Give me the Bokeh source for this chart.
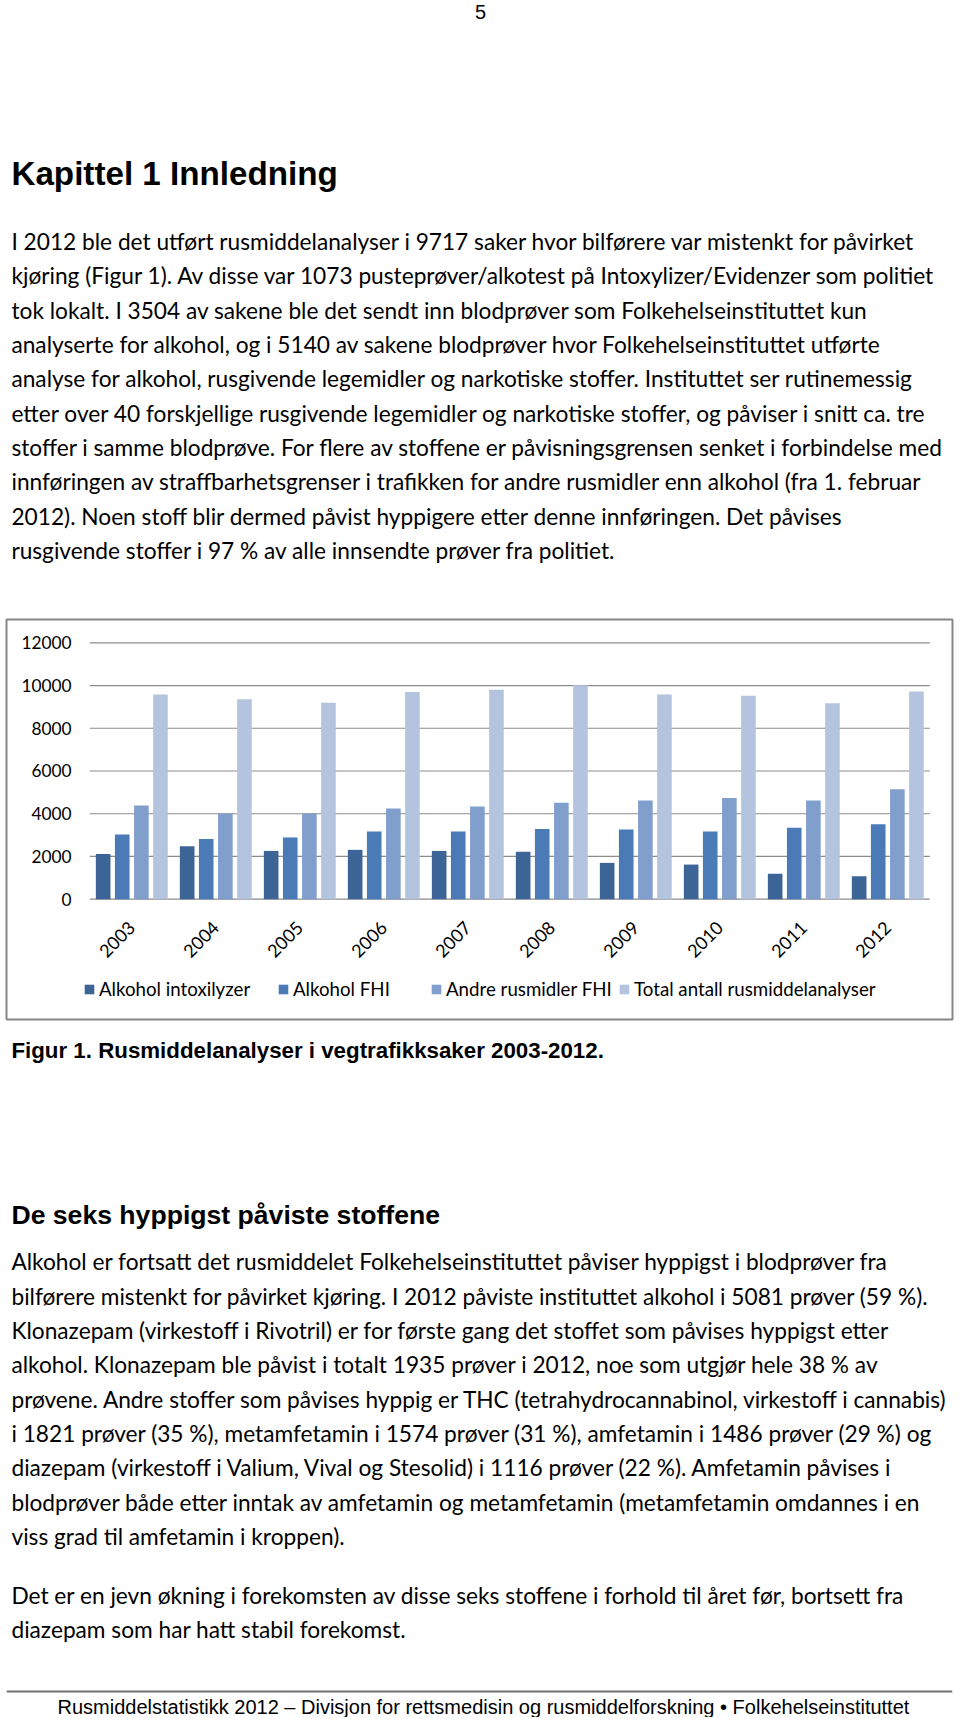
import math
from bokeh.plotting import figure
from bokeh.models import Range1d, Legend, LegendItem
from bokeh.layouts import column
from bokeh.embed import file_html
from bokeh.resources import INLINE
from bokeh.core.properties import value

# ---------------- data ----------------
years = ["2003", "2004", "2005", "2006", "2007", "2008", "2009", "2010", "2011", "2012"]
series_names = ["Alkohol intoxilyzer", "Alkohol FHI", "Andre rusmidler FHI",
                "Total antall rusmiddelanalyser"]
alkohol_intoxilyzer = [2120, 2480, 2260, 2310, 2260, 2220, 1700, 1620, 1190, 1073]
alkohol_fhi = [3030, 2820, 2890, 3170, 3170, 3290, 3260, 3170, 3340, 3504]
andre_rusmidler_fhi = [4380, 4010, 4010, 4240, 4340, 4510, 4620, 4740, 4620, 5140]
total_analyser = [9580, 9360, 9190, 9700, 9800, 10010, 9580, 9520, 9170, 9717]
y_ticks = [0, 2000, 4000, 6000, 8000, 10000, 12000]
y_tick_labels = [str(t) for t in y_ticks]

colors = ["#3C6497", "#4A7BB7", "#809FCC", "#B4C4DF"]

# ---------------- page texts ----------------
page_number = "5"
heading1 = "Kapittel 1 Innledning"
para1 = [
    "I 2012 ble det utført rusmiddelanalyser i 9717 saker hvor bilførere var mistenkt for påvirket",
    "kjøring (Figur 1). Av disse var 1073 pusteprøver/alkotest på Intoxylizer/Evidenzer som politiet",
    "tok lokalt. I 3504 av sakene ble det sendt inn blodprøver som Folkehelseinstituttet kun",
    "analyserte for alkohol, og i 5140 av sakene blodprøver hvor Folkehelseinstituttet utførte",
    "analyse for alkohol, rusgivende legemidler og narkotiske stoffer. Instituttet ser rutinemessig",
    "etter over 40 forskjellige rusgivende legemidler og narkotiske stoffer, og påviser i snitt ca. tre",
    "stoffer i samme blodprøve. For flere av stoffene er påvisningsgrensen senket i forbindelse med",
    "innføringen av straffbarhetsgrenser i trafikken for andre rusmidler enn alkohol (fra 1. februar",
    "2012). Noen stoff blir dermed påvist hyppigere etter denne innføringen. Det påvises",
    "rusgivende stoffer i 97 % av alle innsendte prøver fra politiet.",
]
caption = "Figur 1. Rusmiddelanalyser i vegtrafikksaker 2003-2012."
heading2 = "De seks hyppigst påviste stoffene"
para2 = [
    "Alkohol er fortsatt det rusmiddelet Folkehelseinstituttet påviser hyppigst i blodprøver fra",
    "bilførere mistenkt for påvirket kjøring. I 2012 påviste instituttet alkohol i 5081 prøver (59 %).",
    "Klonazepam (virkestoff i Rivotril) er for første gang det stoffet som påvises hyppigst etter",
    "alkohol. Klonazepam ble påvist i totalt 1935 prøver i 2012, noe som utgjør hele 38 % av",
    "prøvene. Andre stoffer som påvises hyppig er THC (tetrahydrocannabinol, virkestoff i cannabis)",
    "i 1821 prøver (35 %), metamfetamin i 1574 prøver (31 %), amfetamin i 1486 prøver (29 %) og",
    "diazepam (virkestoff i Valium, Vival og Stesolid) i 1116 prøver (22 %). Amfetamin påvises i",
    "blodprøver både etter inntak av amfetamin og metamfetamin (metamfetamin omdannes i en",
    "viss grad til amfetamin i kroppen).",
]
para3 = [
    "Det er en jevn økning i forekomsten av disse seks stoffene i forhold til året før, bortsett fra",
    "diazepam som har hatt stabil forekomst.",
]
footer = "Rusmiddelstatistikk 2012 \u2013 Divisjon for rettsmedisin og rusmiddelforskning \u2022 Folkehelseinstituttet"

# ---------------- layout constants ----------------
W = 958
TOP_H = 617
CHART_H = 404
BOT_H = 696
BODY_FONT = "Lato"
BODY_SIZE = "22.7px"
HEAD_FONT = "Liberation Sans"
LINE = 34.3
TX = 5


def page_fig(h):
    p = figure(width=W, height=h, x_range=Range1d(0, W), y_range=Range1d(h, 0),
               output_backend="svg", toolbar_location=None,
               x_axis_location=None, y_axis_location=None, min_border=0)
    p.grid.visible = False
    p.outline_line_color = None
    return p


def add_text(p, x, y, s, font, size, style="normal", align="left"):
    p.text(x=[x], y=[y], text=[s], text_font=value(font), text_font_size=size,
           text_font_style=style, text_align=align, text_baseline="middle",
           text_color="black")


def add_lines(p, lines, y0):
    p.text(x=[TX] * len(lines), y=[y0 + LINE * i for i in range(len(lines))], text=lines,
           text_font=value(BODY_FONT), text_font_size=BODY_SIZE,
           text_align="left", text_baseline="middle", text_color="black")


# ---------------- top part ----------------
top = page_fig(TOP_H)
add_text(top, 480, 11, page_number, HEAD_FONT, "20px", align="center")
add_text(top, TX, 173, heading1, HEAD_FONT, "33.2px", style="bold")
add_lines(top, para1, 241.1)

# ---------------- chart ----------------
cp = figure(width=W, height=CHART_H, x_range=Range1d(-1.4917, 9.7702),
            y_range=Range1d(-5630, 13090), output_backend="svg", toolbar_location=None,
            x_axis_location=None, y_axis_location=None,
            min_border_left=6, min_border_right=6, min_border_top=2, min_border_bottom=2)
cp.grid.visible = False
cp.outline_line_color = "#878787"
cp.outline_line_width = 2

idx = list(range(len(years)))
cp.segment(x0=[-0.5] * len(y_ticks), x1=[9.5] * len(y_ticks), y0=y_ticks, y1=y_ticks,
           line_color="#8C8C8C", line_width=1.2)

offsets = [-0.341, -0.114, 0.114, 0.341]
bar_w = 0.174
renderers = []
for vals, off, col in zip([alkohol_intoxilyzer, alkohol_fhi, andre_rusmidler_fhi, total_analyser],
                          offsets, colors):
    r = cp.vbar(x=[i + off for i in idx], top=vals, bottom=0, width=bar_w,
                fill_color=col, line_color=None)
    renderers.append(r)

CHART_FONT = "Lato"
cp.text(x=[-0.718] * len(y_ticks), y=y_ticks, text=y_tick_labels,
        text_font=value(CHART_FONT), text_font_size="17.3px",
        text_align="right", text_baseline="middle", text_color="black")
cp.text(x=idx, y=[-1184] * len(years), text=years, angle=math.pi / 4,
        text_font=value(CHART_FONT), text_font_size="18px",
        text_align="right", text_baseline="middle", text_color="black")

legend_x = [77, 271, 424, 612]
for name, r, lx in zip(series_names, renderers, legend_x):
    leg = Legend(items=[LegendItem(label=name, renderers=[r])], location=(lx, 19),
                 orientation="horizontal", border_line_color=None,
                 background_fill_alpha=0, padding=0, margin=0, spacing=0,
                 glyph_width=12, glyph_height=12, label_standoff=4,
                 label_text_font=CHART_FONT, label_text_font_size="18.7px",
                 label_text_color="black")
    cp.add_layout(leg)

# ---------------- bottom part ----------------
bot = page_fig(BOT_H)
add_text(bot, TX, 29, caption, HEAD_FONT, "22.3px", style="bold")
add_text(bot, TX, 193, heading2, HEAD_FONT, "26.6px", style="bold")
add_lines(bot, para2, 240.4)
add_lines(bot, para3, 573.5)
bot.segment(x0=[0], x1=[W], y0=[670], y1=[670], line_color="#6E6E6E", line_width=2)
add_text(bot, 483, 685, footer, HEAD_FONT, "20px", align="center")

layout = column(top, cp, bot, spacing=0)
open("out.html", "w").write(file_html(layout, INLINE))
